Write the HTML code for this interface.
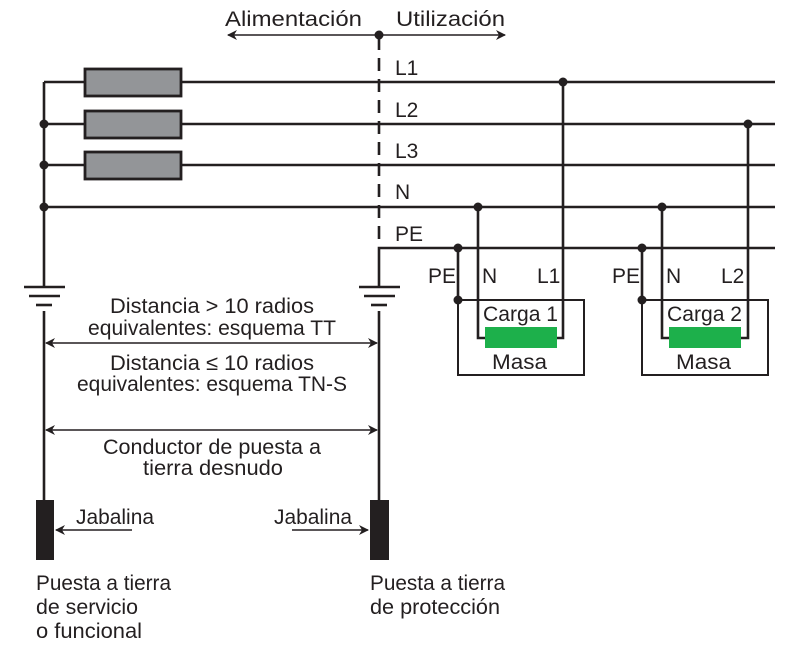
<!DOCTYPE html>
<html><head><style>body{margin:0;background:#fff}svg{display:block}text{font-family:"Liberation Sans",sans-serif;fill:#231f20}</style></head>
<body>
<svg width="800" height="650" viewBox="0 0 800 650" xmlns="http://www.w3.org/2000/svg">
<defs>
<marker id="a" viewBox="0 0 10 10" refX="9" refY="5" markerWidth="10" markerHeight="10" markerUnits="userSpaceOnUse" orient="auto-start-reverse"><path d="M0,0 L10,5 L0,10 L3,5z" fill="#231f20"/></marker>
</defs>
<g stroke="#231f20" stroke-width="2.6" fill="none">
<line x1="44" y1="82" x2="775" y2="82"/>
<line x1="44" y1="124" x2="775" y2="124"/>
<line x1="44" y1="165" x2="775" y2="165"/>
<line x1="44" y1="207" x2="775" y2="207"/>
<polyline points="379,288 379,248 775,248"/>
<line x1="44" y1="82" x2="44" y2="288"/>
<line x1="379" y1="37" x2="379" y2="246" stroke-dasharray="13,8"/>
<line x1="379" y1="35" x2="228" y2="35" stroke-width="1.5" marker-end="url(#a)"/>
<line x1="379" y1="35" x2="505" y2="35" stroke-width="1.5" marker-end="url(#a)"/>
<line x1="24" y1="287" x2="65" y2="287"/><line x1="29" y1="296" x2="60" y2="296"/><line x1="36" y1="305" x2="52" y2="305"/>
<line x1="44" y1="311" x2="44" y2="500"/>
<line x1="359" y1="287" x2="400" y2="287"/><line x1="364" y1="296" x2="395" y2="296"/><line x1="371" y1="305" x2="387" y2="305"/>
<line x1="379" y1="311" x2="379" y2="500"/>
<line x1="46" y1="343" x2="377" y2="343" stroke-width="1.5" marker-start="url(#a)" marker-end="url(#a)"/>
<line x1="46" y1="430" x2="377" y2="430" stroke-width="1.5" marker-start="url(#a)" marker-end="url(#a)"/>
<line x1="132" y1="530" x2="56" y2="530" stroke-width="1.5" marker-end="url(#a)"/>
<line x1="292" y1="530" x2="368" y2="530" stroke-width="1.5" marker-end="url(#a)"/>
<rect x="458" y="300" width="126" height="75" stroke-width="2"/>
<rect x="642" y="300" width="126" height="75" stroke-width="2"/>
<polyline points="458,248 458,300"/>
<polyline points="478,207 478,338 486,338"/>
<polyline points="563,82 563,338 556,338"/>
<polyline points="642,248 642,300"/>
<polyline points="662,207 662,338 670,338"/>
<polyline points="748,124 748,338 741,338"/>
</g>
<g fill="#939598" stroke="#231f20" stroke-width="2.8">
<rect x="85" y="69" width="96" height="27"/>
<rect x="85" y="111" width="96" height="27"/>
<rect x="85" y="152" width="96" height="27"/>
</g>
<g fill="#1db04b"><rect x="485" y="327" width="72" height="21"/><rect x="669" y="327" width="72" height="21"/></g>
<g fill="#231f20">
<circle cx="379" cy="35" r="4.5"/>
<circle cx="44" cy="124" r="4.5"/><circle cx="44" cy="165" r="4.5"/><circle cx="44" cy="207" r="4.5"/>
<circle cx="563" cy="82" r="4.5"/><circle cx="748" cy="124" r="4.5"/>
<circle cx="478" cy="207" r="4.5"/><circle cx="662" cy="207" r="4.5"/>
<circle cx="458" cy="248" r="4.5"/><circle cx="642" cy="248" r="4.5"/>
<circle cx="458" cy="300" r="4.5"/><circle cx="642" cy="300" r="4.5"/>
<rect x="36" y="500" width="18" height="60"/><rect x="370" y="500" width="19" height="60"/>
</g>
<g font-size="21" lengthAdjust="spacingAndGlyphs">
<text x="225" y="26" textLength="137" lengthAdjust="spacingAndGlyphs">Alimentación</text>
<text x="396" y="26" textLength="109" lengthAdjust="spacingAndGlyphs">Utilización</text>
<text x="395" y="75">L1</text><text x="395" y="117">L2</text><text x="395" y="158">L3</text>
<text x="395" y="199">N</text><text x="395" y="241">PE</text>
<text x="428" y="283">PE</text><text x="482" y="283">N</text><text x="537" y="283">L1</text>
<text x="612" y="283">PE</text><text x="666" y="283">N</text><text x="721" y="283">L2</text>
<text x="483" y="321" textLength="75" lengthAdjust="spacingAndGlyphs">Carga 1</text>
<text x="667" y="321" textLength="75" lengthAdjust="spacingAndGlyphs">Carga 2</text>
<text x="492" y="369" textLength="55" lengthAdjust="spacingAndGlyphs">Masa</text>
<text x="676" y="369" textLength="55" lengthAdjust="spacingAndGlyphs">Masa</text>
<text x="110" y="313" textLength="204" lengthAdjust="spacingAndGlyphs">Distancia  &gt; 10 radios</text>
<text x="88" y="335" textLength="248" lengthAdjust="spacingAndGlyphs">equivalentes: esquema TT</text>
<text x="110" y="370" textLength="204" lengthAdjust="spacingAndGlyphs">Distancia  ≤ 10 radios</text>
<text x="77" y="391" textLength="270" lengthAdjust="spacingAndGlyphs">equivalentes: esquema TN-S</text>
<text x="103" y="454" textLength="218" lengthAdjust="spacingAndGlyphs">Conductor de puesta a</text>
<text x="143" y="475" textLength="140" lengthAdjust="spacingAndGlyphs">tierra desnudo</text>
<text x="76" y="524" textLength="78" lengthAdjust="spacingAndGlyphs">Jabalina</text>
<text x="274" y="524" textLength="78" lengthAdjust="spacingAndGlyphs">Jabalina</text>
<text x="36" y="590" textLength="135" lengthAdjust="spacingAndGlyphs">Puesta a tierra</text>
<text x="36" y="614" textLength="102" lengthAdjust="spacingAndGlyphs">de servicio</text>
<text x="36" y="638" textLength="106" lengthAdjust="spacingAndGlyphs">o funcional</text>
<text x="370" y="590" textLength="135" lengthAdjust="spacingAndGlyphs">Puesta a tierra</text>
<text x="370" y="614" textLength="130" lengthAdjust="spacingAndGlyphs">de protección</text>
</g>
</svg>
</body></html>
